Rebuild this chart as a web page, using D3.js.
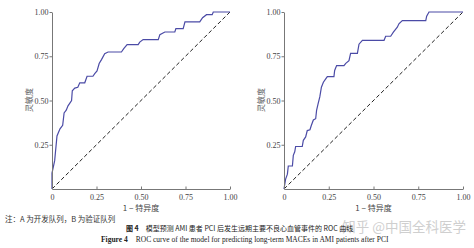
<!DOCTYPE html>
<html>
<head>
<meta charset="utf-8">
<script src="https://cdn.jsdelivr.net/npm/d3@7"></script>
<style>
  body { margin: 0; background: #fff; }
  svg { display: block; }
</style>
</head>
<body>
<div id="container"></div>
<script>
// ROC points: [1 - specificity, sensitivity]
var fprA = [0, 0, 0.015, 0.028, 0.045, 0.06, 0.068, 0.08, 0.09, 0.11, 0.114, 0.128, 0.145, 0.156, 0.184, 0.197, 0.23, 0.24, 0.253, 0.265, 0.278, 0.296, 0.315, 0.39, 0.403, 0.422, 0.484, 0.493, 0.512, 0.597, 0.606, 0.634, 0.69, 0.696, 0.737, 0.747, 0.83, 0.846, 0.868, 0.9, 0.906, 1];
var tprA = [0, 0.09, 0.16, 0.3, 0.34, 0.36, 0.43, 0.445, 0.47, 0.5, 0.555, 0.57, 0.575, 0.6, 0.6, 0.637, 0.637, 0.652, 0.667, 0.709, 0.731, 0.765, 0.774, 0.774, 0.793, 0.816, 0.816, 0.83, 0.844, 0.844, 0.872, 0.887, 0.887, 0.906, 0.906, 0.944, 0.944, 0.968, 0.985, 0.985, 1, 1];

var fprB = [0, 0.009, 0.019, 0.024, 0.047, 0.052, 0.06, 0.065, 0.102, 0.108, 0.121, 0.13, 0.145, 0.153, 0.164, 0.177, 0.182, 0.19, 0.2, 0.209, 0.22, 0.233, 0.242, 0.279, 0.283, 0.294, 0.335, 0.345, 0.363, 0.372, 0.41, 0.419, 0.438, 0.559, 0.568, 0.596, 0.611, 0.633, 0.642, 0.661, 0.792, 0.797, 0.81, 1];
var tprB = [0, 0.056, 0.084, 0.13, 0.13, 0.19, 0.21, 0.24, 0.24, 0.275, 0.294, 0.33, 0.335, 0.36, 0.39, 0.397, 0.444, 0.48, 0.52, 0.575, 0.603, 0.622, 0.635, 0.635, 0.67, 0.697, 0.697, 0.71, 0.725, 0.766, 0.766, 0.818, 0.84, 0.84, 0.863, 0.863, 0.886, 0.914, 0.933, 0.951, 0.951, 0.976, 1, 1];

var ticks = [0, 0.25, 0.5, 0.75, 1];
var tickLabels = ['0', '0.25', '0.50', '0.75', '1.00'];
var xTitle = '1 − 特异度';
var yTitle = '灵敏度';

var width = 474,
    height = 248;

var svg = d3.select('#container')
    .append('svg')
    .attr('width', width)
    .attr('height', height);

var serif = '"Liberation Serif", "DejaVu Serif", serif';
var cjk = '"Noto Sans CJK SC", sans-serif';

function panel(left, right, fpr, tpr) {
    var x = d3.scaleLinear().domain([0, 1]).range([left, right]);
    var y = d3.scaleLinear().domain([0, 1]).range([189, 12]);

    var g = svg.append('g');

    // diagonal reference
    g.append('path')
        .datum([0, 1])
        .attr('d', d3.line().x(function(d) { return x(d); }).y(function(d) { return y(d); }))
        .attr('fill', 'none')
        .attr('stroke', '#222')
        .attr('stroke-width', 1)
        .attr('stroke-dasharray', '4,2.5');

    var pts = fpr.map(function(d, i) { return [d, tpr[i]]; });
    g.append('path')
        .datum(pts)
        .attr('d', d3.line().x(function(d) { return x(d[0]); }).y(function(d) { return y(d[1]); }))
        .attr('fill', 'none')
        .attr('stroke', '#4b4ba6')
        .attr('stroke-width', 1.2);

    var xAxis = g.append('g')
        .attr('transform', 'translate(0,189)')
        .call(d3.axisBottom(x).tickValues(ticks).tickSize(-2.5).tickSizeOuter(0)
            .tickFormat(function(d, i) { return tickLabels[i]; }));
    xAxis.selectAll('text').attr('dy', 0).attr('y', 11);

    var yAxis = g.append('g')
        .attr('transform', 'translate(' + left + ',0)')
        .call(d3.axisLeft(y).tickValues(ticks.slice(1)).tickSize(2.5).tickSizeOuter(0)
            .tickFormat(function(d) { return tickLabels[ticks.indexOf(d)]; }));
    yAxis.selectAll('text').attr('x', -3.5);

    g.selectAll('.domain').attr('stroke', '#777').attr('stroke-width', 1);
    g.selectAll('.tick line').attr('stroke', '#777');
    g.selectAll('.tick text')
        .attr('fill', '#444')
        .style('font-family', serif)
        .style('font-size', '8px');

    g.append('text')
        .attr('x', (left + right) / 2)
        .attr('y', 211)
        .attr('text-anchor', 'middle')
        .attr('fill', '#444')
        .style('font-family', cjk)
        .style('font-size', '8px')
        .text(xTitle);

    g.append('text')
        .attr('transform', 'translate(' + (left - 20) + ',100) rotate(-90)')
        .attr('text-anchor', 'middle')
        .attr('fill', '#666')
        .style('font-family', cjk)
        .style('font-size', '8px')
        .text(yTitle);
}

panel(52, 230, fprA, tprA);
panel(284, 463, fprB, tprB);

// watermark
svg.append('text')
    .attr('x', 466)
    .attr('y', 232)
    .attr('text-anchor', 'end')
    .attr('fill', '#cfcfcf')
    .style('font-family', cjk)
    .style('font-size', '13.5px')
    .text('知乎 @中国全科医学');

svg.append('text')
    .attr('x', 5)
    .attr('y', 222)
    .attr('fill', '#333')
    .style('font-family', cjk)
    .style('font-size', '7.5px')
    .text('注：A 为开发队列，B 为验证队列');

svg.append('text')
    .attr('x', 126)
    .attr('y', 231)
    .attr('fill', '#222')
    .style('font-family', cjk)
    .style('font-size', '7px')
    .html('<tspan font-weight="bold">图 4</tspan>　模型预测 AMI 患者 PCI 后发生远期主要不良心血管事件的 ROC 曲线');

svg.append('text')
    .attr('x', 101)
    .attr('y', 242)
    .attr('fill', '#222')
    .style('font-family', serif)
    .style('font-size', '7.5px')
    .html('<tspan font-weight="bold">Figure 4</tspan>　ROC curve of the model for predicting long-term MACEs in AMI patients after PCI');
</script>
</body>
</html>
